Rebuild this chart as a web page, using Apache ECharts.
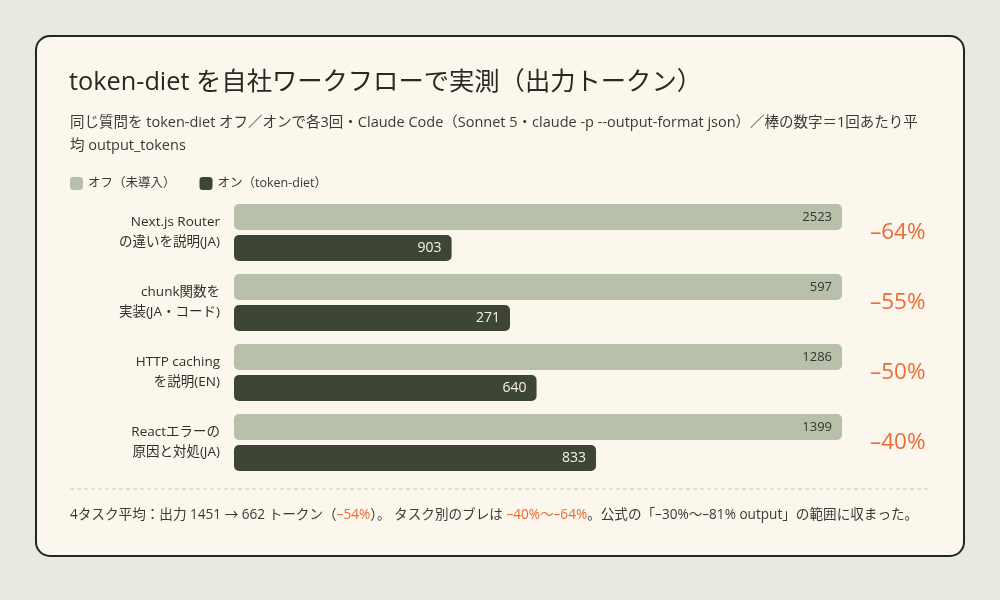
<!DOCTYPE html>
<html lang="ja">
<head>
    <meta charset="UTF-8">
    <title>token-diet</title>
    <script src="https://cdn.jsdelivr.net/npm/echarts@6/dist/echarts.min.js"></script>
    <style>
        html, body { margin: 0; padding: 0; background: #e9eadf; }
        #chart { width: 1000px; height: 600px; }
    </style>
</head>
<body>
    <div id="chart"></div>
    <script type="text/javascript">
        // タスク名と output_tokens（1回あたり平均）
        var categories = ['Next.js Router\nの違いを説明(JA)', 'chunk関数を\n実装(JA・コード)', 'HTTP caching\nを説明(EN)', 'Reactエラーの\n原因と対処(JA)'];
        var offTokens = [2523, 597, 1286, 1399];
        var onTokens = [903, 271, 640, 833];

        var FONT = '"Open Sans", "Noto Sans CJK JP", sans-serif';
        var ORANGE = '#ee6a35';

        // オフを100としたときの相対長
        var offRel = offTokens.map(function () { return 100; });
        var onRel = onTokens.map(function (v, i) { return v / offTokens[i] * 100; });
        var cuts = onTokens.map(function (v, i) { return Math.round((1 - v / offTokens[i]) * 100); });
        var cutLabels = cuts.map(function (c) { return '–' + c + '%'; });

        function avg(a) { return a.reduce(function (s, v) { return s + v; }, 0) / a.length; }
        var avgOff = Math.round(avg(offTokens));
        var avgOn = Math.round(avg(onTokens));
        var avgCut = Math.round((1 - avg(onTokens) / avg(offTokens)) * 100);
        var maxCut = Math.max.apply(null, cuts), minCut = Math.min.apply(null, cuts);

        var chart = echarts.init(document.getElementById('chart'));
        var option = {
            backgroundColor: '#e9eadf',
            textStyle: { fontFamily: FONT },
            graphic: [
                {
                    type: 'rect', z: -10,
                    shape: { x: 36, y: 36, width: 928, height: 520, r: 14 },
                    style: { fill: '#fbf7ec', stroke: '#23261f', lineWidth: 2 }
                },
                {
                    type: 'line',
                    shape: { x1: 70, y1: 489, x2: 930, y2: 489 },
                    style: { stroke: '#c9c8bb', lineWidth: 1, lineDash: [4, 3] }
                },
                {
                    type: 'text', left: 70, top: 508,
                    style: {
                        text: '{a|4タスク平均：出力 ' + avgOff + ' → ' + avgOn + ' トークン（}{o|–' + avgCut + '%}{a|）。 タスク別のブレは }{o|–' + minCut + '%〜–' + maxCut + '%}{a|。公式の「–30%〜–81% output」の範囲に収まった。}',
                        rich: {
                            a: { fontSize: 13.6, fill: '#3a3a35', fontFamily: FONT },
                            o: { fontSize: 13.6, fill: ORANGE, fontFamily: FONT }
                        }
                    }
                }
            ],
            title: [{
                text: 'token-diet を自社ワークフローで実測（出力トークン）',
                left: 64, top: 65,
                textStyle: { fontSize: 25.3, fontWeight: 'normal', color: '#262a20', fontFamily: FONT }
            }, {
                text: '同じ質問を token-diet オフ／オンで各3回・Claude Code（Sonnet 5・claude -p --output-format json）／棒の数字＝1回あたり平\n均 output_tokens',
                left: 65, top: 106,
                textStyle: { fontSize: 14.5, fontWeight: 'normal', color: '#3a3a35', lineHeight: 23, fontFamily: FONT }
            }],
            legend: {
                left: 65, top: 172,
                itemWidth: 13, itemHeight: 13, itemGap: 24,
                icon: 'roundRect',
                textStyle: { fontSize: 12.5, color: '#3a3a35' },
                data: ['オフ（未導入）', 'オン（token-diet）']
            },
            grid: { left: 234, right: 158, top: 197.5, bottom: 122.5 },
            xAxis: {
                type: 'value', min: 0, max: 100, show: false
            },
            yAxis: [{
                type: 'category', inverse: true, data: categories,
                axisLine: { show: false }, axisTick: { show: false },
                axisLabel: { fontSize: 13.5, color: '#2f302b', lineHeight: 20, margin: 14, align: 'right' }
            }, {
                type: 'category', inverse: true, position: 'right', data: cutLabels,
                axisLine: { show: false }, axisTick: { show: false },
                axisLabel: { fontSize: 22.5, color: ORANGE, margin: 28, align: 'left' }
            }],
            series: [{
                name: 'オフ（未導入）', type: 'bar', data: offRel,
                barWidth: 26, barGap: '19%',
                itemStyle: { color: '#b8bfaa', borderRadius: 5 },
                label: {
                    show: true, position: 'insideRight', distance: 10,
                    fontSize: 13, color: '#33352e',
                    formatter: function (p) { return offTokens[p.dataIndex]; }
                }
            }, {
                name: 'オン（token-diet）', type: 'bar', data: onRel,
                barWidth: 26,
                itemStyle: { color: '#3d4536', borderRadius: 5 },
                label: {
                    show: true, position: 'insideRight', distance: 10,
                    fontSize: 14, color: '#f6f1e2',
                    formatter: function (p) { return onTokens[p.dataIndex]; }
                }
            }]
        };
        chart.setOption(option);
    </script>
</body>
</html>
